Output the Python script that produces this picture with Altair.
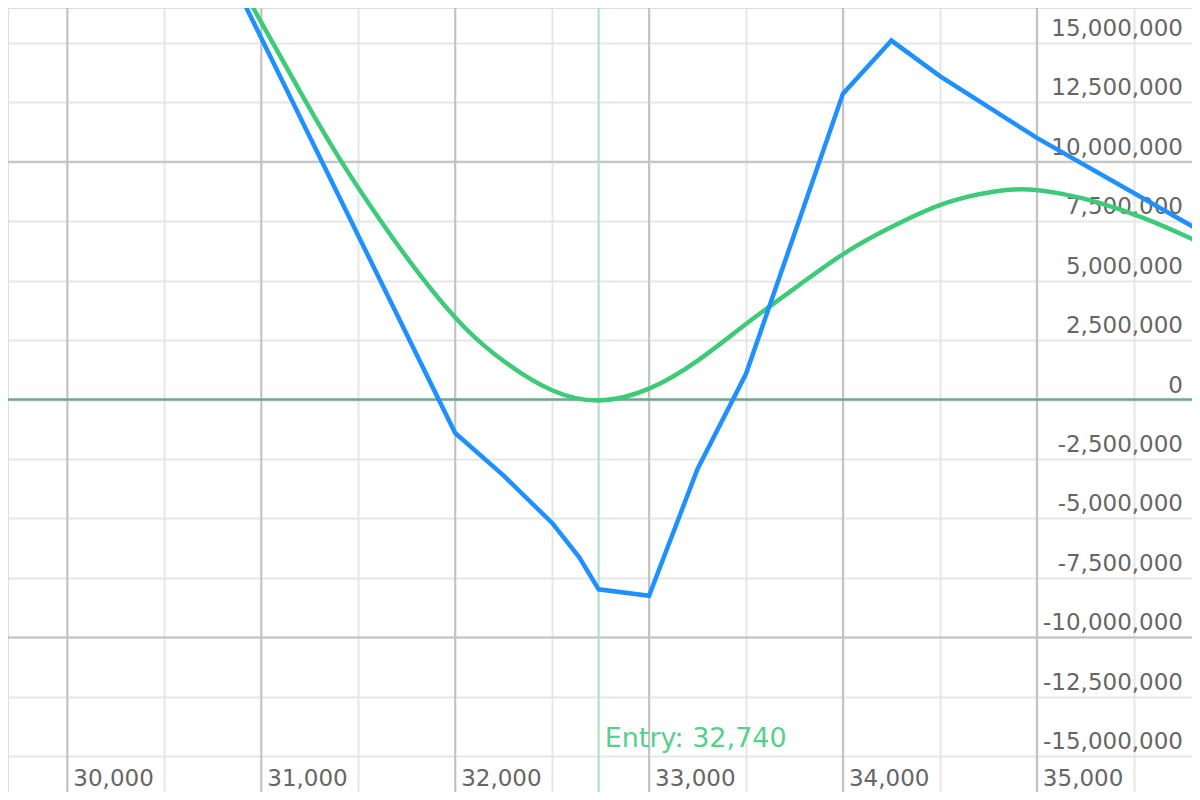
import altair as alt
import pandas as pd

# ---- data ----
blue_price = [30500, 31000, 32000, 32250, 32500, 32640, 32740, 33000, 33250, 33500,
              34000, 34250, 34500, 35000, 36000]
blue_pnl = [23.5e6, 15.2e6, -1.41e6, -3.20e6, -5.19e6, -6.63e6, -7.98e6, -8.25e6, -2.92e6, 1.08e6,
            12.86e6, 15.09e6, 13.60e6, 11.0e6, 6.36e6]

green_price = [30700, 30960, 31240, 31410, 31600, 31830, 32050, 32240, 32500, 32740,
               33000, 33260, 33510, 33770, 34020, 34280, 34530, 34790, 34960, 35130,
               35300, 35550, 35810, 36000]
green_pnl = [20.2e6, 16.46e6, 12.34e6, 10.0e6, 7.67e6, 5.05e6, 2.92e6, 1.62e6, 0.25e6, -0.2e6,
             0.33e6, 1.62e6, 3.27e6, 4.78e6, 6.29e6, 7.39e6, 8.35e6, 8.8e6, 8.88e6, 8.66e6,
             8.35e6, 7.67e6, 6.72e6, 6.0e6]

x_grid = list(range(29500, 36001, 500))
y_grid = [i * 2_500_000 for i in range(-6, 7)]
x_labels = [30000, 31000, 32000, 33000, 34000, 35000]
y_labels = [i * 2_500_000 for i in range(-6, 7)]
major_x = [30000, 31000, 32000, 33000, 34000, 35000]
major_y = [-10_000_000, 10_000_000]
zero_y = [0]
entry_price = 32740
entry_label = "Entry: 32,740"

x_domain = [29694, 35800]
y_domain = [-16_500_000, 16_460_000]

W, H = 1184, 784
FONT = "DejaVu Sans"

blue_df = pd.DataFrame({"price": blue_price, "pnl": blue_pnl})
green_df = pd.DataFrame({"price": green_price, "pnl": green_pnl})
mx_df = pd.DataFrame({"price": major_x})
my_df = pd.DataFrame({"pnl": major_y})
zero_df = pd.DataFrame({"pnl": zero_y})
entry_df = pd.DataFrame({"price": [entry_price], "label": [entry_label]})
xl_df = pd.DataFrame({"price": x_labels, "label": [f"{v:,}" for v in x_labels]})
yl_df = pd.DataFrame({"pnl": y_labels, "label": [f"{v:,}" for v in y_labels]})

x_scale = alt.Scale(domain=x_domain, nice=False, zero=False)
y_scale = alt.Scale(domain=y_domain, nice=False, zero=False)

x_axis = alt.Axis(values=x_grid, grid=True, gridColor="#e6e6e6", gridWidth=2,
                  ticks=False, domain=False, labels=False, title=None)
y_axis = alt.Axis(values=y_grid, grid=True, gridColor="#e6e6e6", gridWidth=2,
                  ticks=False, domain=False, labels=False, title=None)

axes_layer = alt.Chart(blue_df).mark_line(opacity=0, clip=True).encode(
    x=alt.X("price:Q", scale=x_scale, axis=x_axis),
    y=alt.Y("pnl:Q", scale=y_scale, axis=y_axis),
)

x_label_marks = alt.Chart(xl_df).mark_text(
    align="left", baseline="alphabetic", dx=6, font=FONT, fontSize=23, color="#666666"
).encode(
    x=alt.X("price:Q", scale=x_scale),
    y=alt.value(H - 6),
    text="label:N",
)
y_label_marks = alt.Chart(yl_df).mark_text(
    align="right", baseline="alphabetic", dy=-7, font=FONT, fontSize=23, color="#666666"
).encode(
    x=alt.value(W - 9),
    y=alt.Y("pnl:Q", scale=y_scale),
    text="label:N",
)

major_x_rules = alt.Chart(mx_df).mark_rule(color="#c2c2c2", strokeWidth=2).encode(
    x=alt.X("price:Q", scale=x_scale)
)
major_y_rules = alt.Chart(my_df).mark_rule(color="#c2c2c2", strokeWidth=2).encode(
    y=alt.Y("pnl:Q", scale=y_scale)
)
zero_rule = alt.Chart(zero_df).mark_rule(color="#6aaa8c", strokeWidth=2.5).encode(
    y=alt.Y("pnl:Q", scale=y_scale)
)
entry_rule = alt.Chart(entry_df).mark_rule(color="#a6e3bd", strokeWidth=2).encode(
    x=alt.X("price:Q", scale=x_scale)
)
entry_text = alt.Chart(entry_df).mark_text(
    align="left", baseline="alphabetic", dx=6, font=FONT, fontSize=27, color="#55d08a"
).encode(
    x=alt.X("price:Q", scale=x_scale),
    y=alt.value(H - 45),
    text="label:N",
)

green_line = alt.Chart(green_df).mark_line(
    color="#3ecb79", strokeWidth=4.5, interpolate="basis", clip=True
).encode(
    x=alt.X("price:Q", scale=x_scale),
    y=alt.Y("pnl:Q", scale=y_scale),
)
blue_line = alt.Chart(blue_df).mark_line(
    color="#1e90ff", strokeWidth=4.5, clip=True, strokeJoin="miter"
).encode(
    x=alt.X("price:Q", scale=x_scale),
    y=alt.Y("pnl:Q", scale=y_scale),
)

chart = alt.layer(
    axes_layer, major_x_rules, major_y_rules, zero_rule, entry_rule,
    x_label_marks, y_label_marks, entry_text,
    green_line, blue_line,
).properties(
    width=W, height=H, padding=0,
    autosize=alt.AutoSizeParams(type="none"),
).configure_view(
    fill="#f7f7f7", stroke="#a0a0a0", strokeWidth=2,
).configure(background="#ffffff")

chart.save("out.html", embed_options={"renderer": "svg", "actions": False})
